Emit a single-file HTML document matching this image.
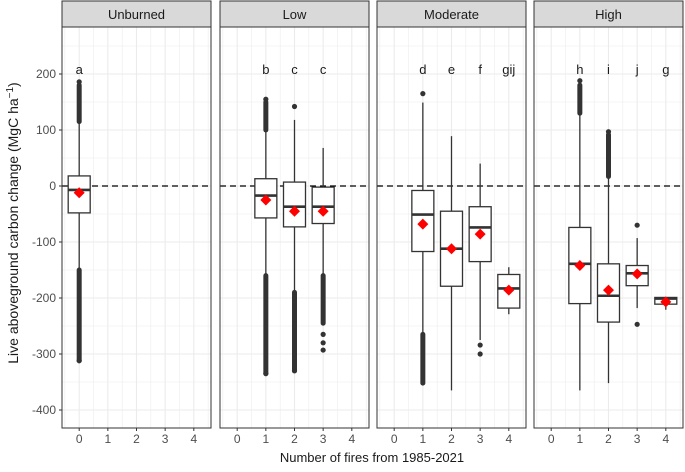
<!DOCTYPE html>
<html><head><meta charset="utf-8"><style>
body{margin:0;background:#fff;}
svg text{font-family:"Liberation Sans",Arial,sans-serif;}
</style></head><body>
<svg id="c" width="685" height="467" xmlns="http://www.w3.org/2000/svg"></svg>
<script>
const facets=["Unburned","Low","Moderate","High"];
const xTicks=[0,1,2,3,4];
const yTicks=[200,100,0,-100,-200,-300,-400];
const groupFacet=[0,1,1,1,2,2,2,2,3,3,3,3];
const groupX=[0,1,2,3,1,2,3,4,1,2,3,4];
const letters=["a","b","c","c","d","e","f","gij","h","i","j","g"];
const q1=[-48,-57,-73,-67,-117,-179,-135,-218,-210,-243,-178,-211];
const med=[-7,-17,-37,-37,-51,-112,-74,-183,-139,-196,-156,-201];
const q3=[18,13,7,-2,-8,-45,-37,-158,-74,-139,-142,-199];
const whiskLo=[-150,-160,-190,-160,-265,-365,-275,-229,-365,-352,-218,-221];
const whiskHi=[115,100,118,68,149,89,40,-145,130,17,-93,-199];
const means=[-12,-25,-45,-45,-68,-112,-86,-186,-142,-186,-157,-207];
const denseLo=[[-312,-150],[-335,-160],[-330,-190],[-245,-160],[-352,-265],null,null,null,null,null,null,null];
const denseHi=[[115,180],[100,150],null,null,null,null,null,null,[130,180],[17,92],null,null];
const outliers=[[186,-312],[155,-335],[142,-330],[-265,-280,-293],[165],[],[-284,-300],[],[188],[97],[-70,-247],[]];

const NS="http://www.w3.org/2000/svg";
const svg=document.getElementById('c');
function el(t,a,p){const e=document.createElementNS(NS,t);for(const k in a)e.setAttribute(k,a[k]);(p||svg).appendChild(e);return e;}
const panL=[62,220,377,534],panW=149,pTop=27,pBot=428,stripTop=1;
function y(v){return 186-v*0.56;}
function x(f,v){return panL[f]+(v+0.6)/5.2*panW;}

facets.forEach((name,f)=>{
  const g=el('g',{});
  
  
  el('rect',{x:panL[f],y:pTop,width:panW,height:pBot-pTop,fill:'#fff'},g);
  for(let v=-450;v<=300;v+=50){const yy=y(v);if(yy>pTop&&yy<pBot){el('line',{x1:panL[f],x2:panL[f]+panW,y1:yy,y2:yy,stroke:'#ebebeb','stroke-width':v%100===0?1.1:0.55},g);}}
  for(let v=-0.5;v<=4.5;v+=0.5){el('line',{x1:x(f,v),x2:x(f,v),y1:pTop,y2:pBot,stroke:'#ebebeb','stroke-width':Number.isInteger(v)?1.1:0.55},g);}
  el('line',{x1:panL[f],x2:panL[f]+panW,y1:y(0),y2:y(0),stroke:'#000','stroke-width':1.3,'stroke-dasharray':'6,4'},g);
  const s=el('rect',{x:panL[f],y:stripTop,width:panW,height:pTop-stripTop,fill:'#d9d9d9',stroke:'#333','stroke-width':1},g);
  
  
  const st=el('text',{x:panL[f]+panW/2,y:19,'text-anchor':'middle','font-size':13,fill:'#1a1a1a'},g);st.textContent=name;
  
  
  xTicks.forEach(t=>{
    el('line',{x1:x(f,t),x2:x(f,t),y1:pBot,y2:pBot+3,stroke:'#333'},g);
    const tx=el('text',{x:x(f,t),y:pBot+15,'text-anchor':'middle','font-size':12,fill:'#4d4d4d'},g);tx.textContent=t;
    
    
  });
});

groupFacet.forEach((f,i)=>{
  const g=el('g',{});
  
  
  const cx=x(f,groupX[i]),hw=11;
  el('line',{x1:cx,x2:cx,y1:y(whiskHi[i]),y2:y(q3[i]),stroke:'#333','stroke-width':1.3},g);
  el('line',{x1:cx,x2:cx,y1:y(q1[i]),y2:y(whiskLo[i]),stroke:'#333','stroke-width':1.3},g);
  [denseLo[i],denseHi[i]].forEach(d=>{if(d)el('line',{x1:cx,x2:cx,y1:y(d[0]),y2:y(d[1]),stroke:'#333','stroke-width':5,'stroke-linecap':'round'},g);});
  outliers[i].forEach(o=>el('circle',{cx:cx,cy:y(o),r:2.6,fill:'#333'},g));
  el('rect',{x:cx-hw,y:y(q3[i]),width:2*hw,height:Math.max(1,y(q1[i])-y(q3[i])),fill:'#fff',stroke:'#333','stroke-width':1.3},g);
  el('line',{x1:cx-hw,x2:cx+hw,y1:y(med[i]),y2:y(med[i]),stroke:'#333','stroke-width':2.6},g);
  const m=y(means[i]);
  el('polygon',{points:`${cx},${m-5.5} ${cx+5.5},${m} ${cx},${m+5.5} ${cx-5.5},${m}`,fill:'#ff0000'},g);
  const lt=el('text',{x:cx,y:74,'text-anchor':'middle','font-size':13,fill:'#1a1a1a'},g);lt.textContent=letters[i];
  
  
});

facets.forEach((n,f)=>el('rect',{x:panL[f],y:pTop,width:panW,height:pBot-pTop,fill:'none',stroke:'#333','stroke-width':1}));
yTicks.forEach(t=>{
  el('line',{x1:59,x2:62,y1:y(t),y2:y(t),stroke:'#333'});
  const tx=el('text',{x:56,y:y(t)+4,'text-anchor':'end','font-size':12,fill:'#4d4d4d'});tx.textContent=t;
  
  
});
const xt=el('text',{x:372,y:462,'text-anchor':'middle','font-size':13,fill:'#1a1a1a'});xt.textContent='Number of fires from 1985-2021';


const yt=el('text',{x:0,y:0,'text-anchor':'middle','font-size':14,fill:'#1a1a1a',transform:'translate(18,223) rotate(-90)'});
yt.innerHTML='Live aboveground carbon change (MgC ha<tspan dy="-5" font-size="10">−1</tspan><tspan dy="5">)</tspan>';


</script>
</body></html>
